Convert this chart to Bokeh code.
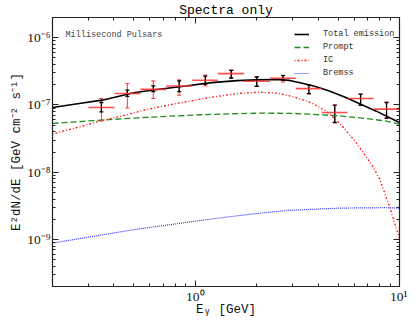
import numpy as np
from bokeh.plotting import figure
from bokeh.models import (Range1d, FixedTicker, LogAxis, CustomJSTickFormatter, Label,
                          Legend, LegendItem, Whisker, TeeHead, ColumnDataSource)
from bokeh.embed import file_html
from bokeh.resources import INLINE

# ---------------- data ----------------
e_total = [0.2, 0.27, 0.35, 0.5, 0.65, 0.9, 1.2, 1.6, 2.0, 2.5, 2.9, 3.3, 3.8, 4.5, 5.5, 6.5, 7.7, 9.0, 10.0]
f_total = [9.2e-8, 1.05e-7, 1.18e-7, 1.52e-7, 1.70e-7, 1.92e-7, 2.15e-7, 2.30e-7, 2.36e-7, 2.39e-7,
           2.32e-7, 2.12e-7, 1.92e-7, 1.63e-7, 1.28e-7, 1.02e-7, 8.1e-8, 6.4e-8, 5.5e-8]

e_prompt = [0.2, 0.345, 0.6, 1.0, 1.5, 2.1, 3.0, 3.6, 5.06, 6.84, 8.5, 10.0]
f_prompt = [5.32e-8, 5.96e-8, 6.6e-8, 7.1e-8, 7.4e-8, 7.57e-8, 7.5e-8, 7.3e-8, 6.9e-8, 6.3e-8, 5.8e-8, 5.2e-8]

e_ic = [0.2, 0.27, 0.35, 0.45, 0.57, 0.83, 1.16, 1.6, 2.05, 2.5, 2.87, 3.3, 3.74, 4.35, 5.06, 6.11,
        7.37, 8.0, 8.9, 10.0]
f_ic = [3.7e-8, 4.7e-8, 5.9e-8, 7.0e-8, 8.5e-8, 1.07e-7, 1.28e-7, 1.48e-7, 1.55e-7, 1.5e-7, 1.38e-7,
        1.22e-7, 1.06e-7, 8.2e-8, 5.5e-8, 2.8e-8, 1.25e-8, 7.9e-9, 3.2e-9, 1.03e-9]

e_brems = [0.2, 0.5, 1.16, 1.8, 2.8, 5.06, 8.5, 10.0]
f_brems = [8.85e-10, 1.4e-9, 1.99e-9, 2.35e-9, 2.7e-9, 2.93e-9, 2.97e-9, 2.93e-9]

bin_lo = [0.300, 0.402, 0.538, 0.721, 0.966, 1.29, 1.73, 2.32, 3.11, 4.16, 5.57, 7.47]
bin_hi = [0.402, 0.538, 0.721, 0.966, 1.29, 1.73, 2.32, 3.11, 4.16, 5.57, 7.47, 10.0]
bin_c = [0.347, 0.465, 0.623, 0.834, 1.12, 1.50, 2.00, 2.69, 3.60, 4.82, 6.45, 8.64]
flux = [9.2e-8, 1.48e-7, 1.71e-7, 1.92e-7, 2.33e-7, 2.93e-7, 2.25e-7, 2.5e-7, 1.75e-7, 7.74e-8, 1.25e-7, 8.67e-8]
tot_lo = [5.8e-8, 9.0e-8, 1.25e-7, 1.40e-7, 1.92e-7, 2.50e-7, 1.89e-7, 2.2e-7, 1.46e-7, 5.4e-8, 9.8e-8, 6.3e-8]
tot_hi = [1.25e-7, 2.08e-7, 2.28e-7, 2.36e-7, 2.79e-7, 3.31e-7, 2.63e-7, 2.77e-7, 1.98e-7, 9.95e-8, 1.45e-7, 1.1e-7]
stat_lo = [7.9e-8, 1.34e-7, 1.58e-7, 1.58e-7, 2.03e-7, 2.52e-7, 1.9e-7, 2.33e-7, 1.48e-7, 5.51e-8, 1.0e-7, 6.37e-8]
stat_hi = [1.09e-7, 1.66e-7, 1.93e-7, 2.28e-7, 2.69e-7, 3.28e-7, 2.61e-7, 2.74e-7, 1.99e-7, 9.93e-8, 1.45e-7, 1.09e-7]

x_major = [1.0, 10.0]
y_major = [1e-9, 1e-8, 1e-7, 1e-6]

# ---------------- figure ----------------
p = figure(width=407, height=319, x_axis_type="log", y_axis_type="log",
           x_range=Range1d(0.2, 10.0), y_range=Range1d(2e-10, 2e-6),
           output_backend="svg", toolbar_location=None,
           min_border_left=52, min_border_right=8, min_border_top=10, min_border_bottom=20)
p.grid.visible = False
p.outline_line_color = "#222222"
p.background_fill_color = "white"

p.title.text = "Spectra only"
p.title.align = "center"
p.title.text_font = "Liberation Mono"
p.title.text_font_size = "13px"
p.title.text_font_style = "normal"
p.title.text_color = "black"
p.title.standoff = 0

x_minor = [k * 0.1 for k in range(2, 10)] + [float(k) for k in range(2, 10)]
y_minor = [k * 10.0 ** n for n in range(-10, -6) for k in range(2, 10)]
y_minor = [v for v in y_minor if 2e-10 <= v <= 2e-6]

sup_code = """
const sup = {"-": "\\u207b", "0": "\\u2070", "1": "\\u00b9", "2": "\\u00b2", "3": "\\u00b3",
             "4": "\\u2074", "5": "\\u2075", "6": "\\u2076", "7": "\\u2077", "8": "\\u2078", "9": "\\u2079"};
const e = Math.round(Math.log10(tick));
let s = "";
for (const c of String(e)) { s += sup[c]; }
return "10" + s;
"""

def style_axis(ax, major, minor, labels=True):
    ax.ticker = FixedTicker(ticks=major, minor_ticks=minor)
    ax.major_tick_in = 6
    ax.major_tick_out = 0
    ax.minor_tick_in = 3
    ax.minor_tick_out = 0
    ax.axis_line_color = "#222222"
    ax.major_tick_line_color = "#222222"
    ax.minor_tick_line_color = "#222222"
    ax.axis_line_width = 1.2
    if labels:
        ax.formatter = CustomJSTickFormatter(code=sup_code)
        ax.major_label_text_font = "Liberation Serif"
        ax.major_label_text_font_size = "13.5px"
        ax.major_label_text_color = "#111111"
        ax.major_label_standoff = 2
        ax.axis_label_text_font = "Liberation Mono"
        ax.axis_label_text_font_size = "12.5px"
        ax.axis_label_text_font_style = "normal"
        ax.axis_label_text_color = "#111111"
    else:
        ax.major_label_text_font_size = "1px"
        ax.major_label_text_alpha = 0.0
        ax.major_label_standoff = 0

style_axis(p.xaxis[0], x_major, x_minor)
style_axis(p.yaxis[0], y_major, y_minor)
p.xaxis[0].axis_label = "E\u1d67 [GeV]"
p.xaxis[0].axis_label_standoff = -4
p.yaxis[0].axis_label = "E\u00b2dN/dE [GeV cm\u207b\u00b2 s\u207b\u00b9]"
p.yaxis[0].axis_label_standoff = 0
top = LogAxis()
right = LogAxis()
style_axis(top, x_major, x_minor, labels=False)
style_axis(right, y_major, y_minor, labels=False)
p.add_layout(top, "above")
p.add_layout(right, "right")

# ---------------- model curves ----------------
r_tot = p.line(e_total, f_total, line_color="black", line_width=1.6)
r_pr = p.line(e_prompt, f_prompt, line_color="#1f8a1f", line_width=1.3, line_dash="6 3")
r_ic = p.line(e_ic, f_ic, line_color="#ff1a1a", line_width=1.3, line_dash="1 2 2 2")
r_br = p.line(e_brems, f_brems, line_color="#3333ff", line_width=1.2, line_dash="1 1")

# ---------------- data points ----------------
src = ColumnDataSource(dict(c=bin_c, lo=bin_lo, hi=bin_hi, f=flux,
                            tlo=tot_lo, thi=tot_hi, slo=stat_lo, shi=stat_hi))
p.segment(x0="lo", y0="f", x1="hi", y1="f", source=src, line_color="#ff3030",
          line_width=1.6, line_alpha=0.85)
p.add_layout(Whisker(source=src, base="c", lower="tlo", upper="thi", dimension="height",
                     line_color="#ff3030", line_width=1.0,
                     upper_head=TeeHead(size=4, line_color="#ff3030", line_width=1.0),
                     lower_head=TeeHead(size=4, line_color="#ff3030", line_width=1.0)))
p.add_layout(Whisker(source=src, base="c", lower="slo", upper="shi", dimension="height",
                     line_color="black", line_width=1.3,
                     upper_head=TeeHead(size=4, line_color="black", line_width=1.3),
                     lower_head=TeeHead(size=4, line_color="black", line_width=1.3)))

# ---------------- legend ----------------
legend = Legend(items=[LegendItem(label="Total emission", renderers=[r_tot]),
                       LegendItem(label="Prompt", renderers=[r_pr]),
                       LegendItem(label="IC", renderers=[r_ic]),
                       LegendItem(label="Bremss", renderers=[r_br])],
                location=(242, 208), margin=0, padding=6, spacing=3,
                glyph_width=15, glyph_height=10, label_height=10, label_standoff=14,
                label_text_font="Liberation Mono", label_text_font_size="8.5px",
                label_text_color="#333333", border_line_color=None,
                background_fill_alpha=0.0)
p.add_layout(legend)

# ---------------- texts ----------------
p.add_layout(Label(x=13, y=252, x_units="screen", y_units="screen", text="Millisecond Pulsars",
                   text_align="left", text_baseline="middle", text_font="Liberation Mono",
                   text_font_size="8.5px", text_color="#444444"))

open("out.html", "w").write(file_html(p, INLINE))
